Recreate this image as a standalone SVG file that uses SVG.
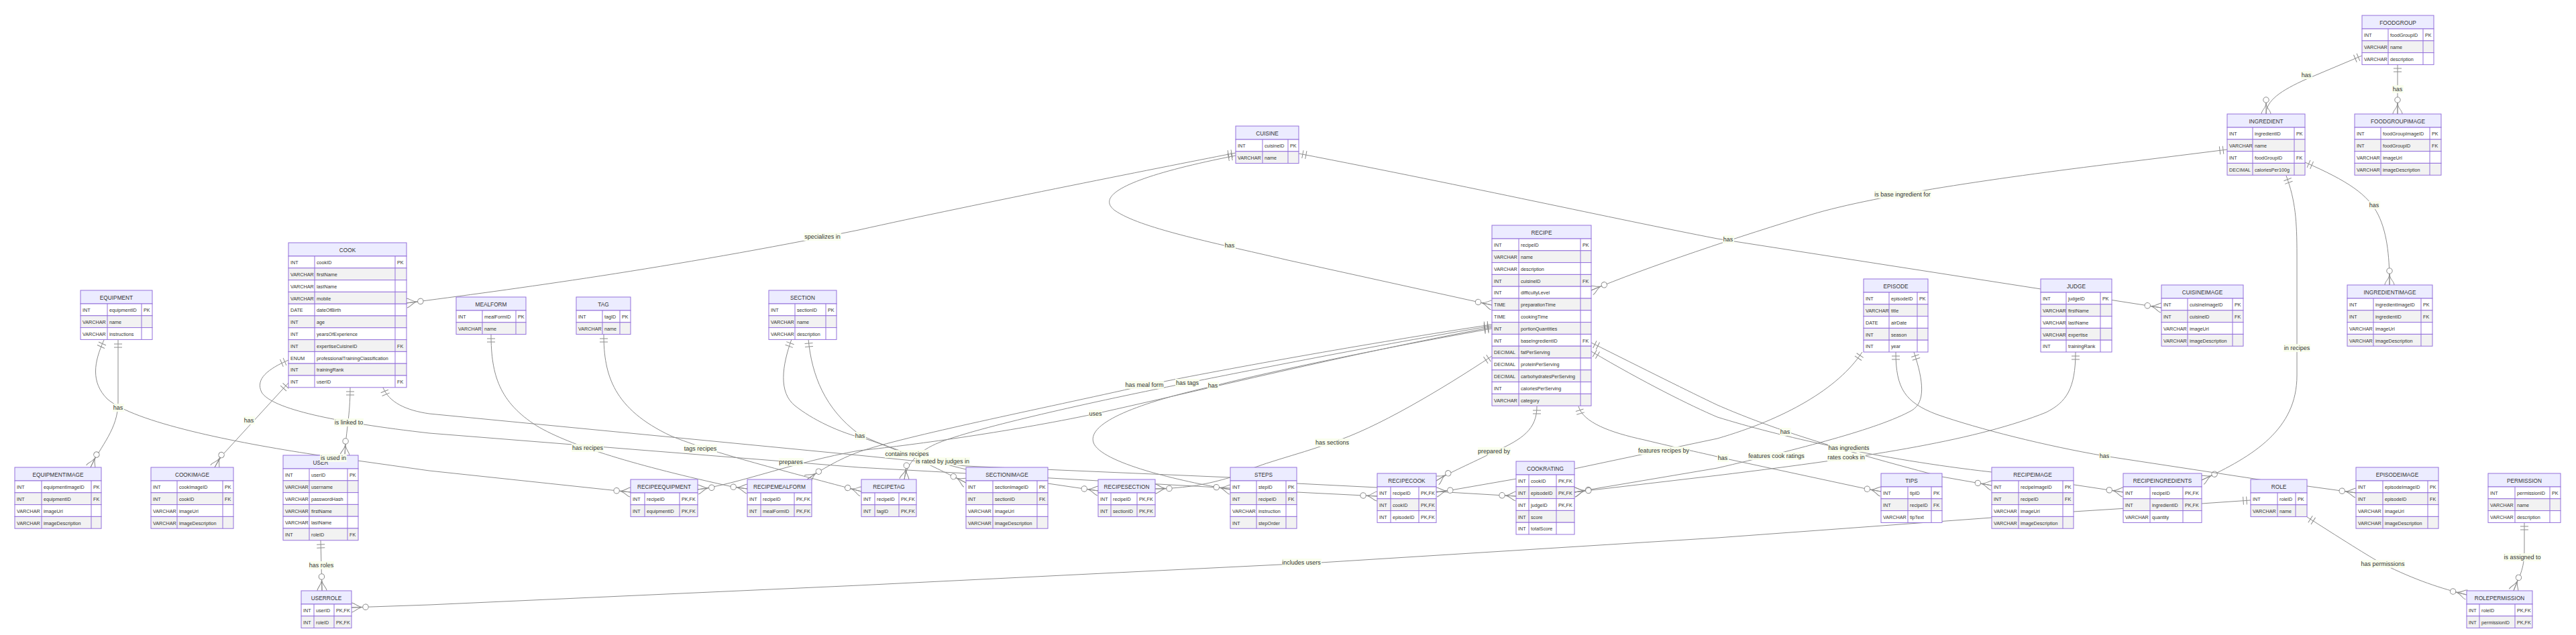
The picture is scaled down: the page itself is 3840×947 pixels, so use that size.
<svg xmlns="http://www.w3.org/2000/svg" width="3840" height="947" viewBox="0 0 3840 947">
<style>
.hd{fill:#ECECFF;stroke:#9370DB;stroke-width:1}
.r1{fill:#ffffff;stroke:#9370DB;stroke-width:1}
.r2{fill:#f2f2f2;stroke:#9370DB;stroke-width:1}
.dv{fill:none;stroke:#9370DB;stroke-width:1}
.ht{font-family:"Liberation Sans",Arial,sans-serif;font-size:8.3px;fill:#333;text-anchor:middle}
.ct{font-family:"Liberation Sans",Arial,sans-serif;font-size:7.2px;fill:#333}
.ln{fill:none;stroke:#8c8c8c;stroke-width:1}
.mk{fill:none;stroke:#8c8c8c;stroke-width:1}
.lb{fill:#f9ffec;opacity:0.9}
.lt{font-family:"Liberation Sans",Arial,sans-serif;font-size:9px;fill:#333;text-anchor:middle}
</style>
<defs>
<marker id="one" markerUnits="userSpaceOnUse" orient="auto-start-reverse" refX="0" refY="0" markerWidth="1" markerHeight="1" style="overflow:visible"><path class="mk" d="M-6,-6V6M-11,-6V6"/></marker>
<marker id="many" markerUnits="userSpaceOnUse" orient="auto" refX="0" refY="0" markerWidth="1" markerHeight="1" style="overflow:visible"><path class="mk" d="M-17,0C-9,0 -5,-7 0,-7M-17,0H0M-17,0C-9,0 -5,7 0,7"/><circle cx="-21" cy="0" r="4.2" fill="#fff" stroke="#8c8c8c" stroke-width="1"/></marker>
</defs>
<rect width="3840" height="947" fill="#ffffff"/>
<g id="connectors">
<path class="ln" marker-start="url(#one)" marker-end="url(#many)" d="M1842,228 C1760,244 1450,305 1280,343 C1000,400 760,432 606,452"/>
<path class="ln" marker-start="url(#one)" marker-end="url(#many)" d="M1842,232 C1690,262 1630,290 1662,314 C1700,340 1800,360 1920,388 L2224,455"/>
<path class="ln" marker-start="url(#one)" marker-end="url(#many)" d="M1936,229 C2200,280 2400,325 2560,356 L3222,459"/>
<path class="ln" marker-start="url(#one)" marker-end="url(#many)" d="M3320,223 L3200,238 C3000,262 2800,290 2700,320 C2600,350 2450,400 2372,433"/>
<path class="ln" marker-start="url(#one)" marker-end="url(#many)" d="M3521,83 L3438,118 C3400,135 3378,150 3378,170"/>
<path class="ln" marker-start="url(#one)" marker-end="url(#many)" d="M3574,96 L3574,170"/>
<path class="ln" marker-start="url(#one)" marker-end="url(#many)" d="M3436,242 C3500,270 3530,290 3545,320 C3560,350 3562,390 3562,425"/>
<path class="ln" marker-start="url(#one)" marker-end="url(#many)" d="M3408,262 C3422,300 3424,330 3424,380 L3424,560 C3424,640 3360,680 3282,716"/>
<path class="ln" marker-start="url(#one)" marker-end="url(#many)" d="M176,507 L176,600 C176,640 150,665 135,697"/>
<path class="ln" marker-start="url(#one)" marker-end="url(#many)" d="M155,507 C140,540 135,570 160,595 C200,630 350,660 469,678 L640,702 L940,734"/>
<path class="ln" marker-start="url(#one)" marker-end="url(#many)" d="M430,571 L333,677 Q326,686 320,697"/>
<path class="ln" marker-start="url(#one)" marker-end="url(#many)" d="M522,578 C522,620 516,640 514,679"/>
<path class="ln" marker-start="url(#one)" marker-end="url(#many)" d="M430,537 C400,550 380,565 390,585 C405,610 500,630 640,646 L1280,697 L1834,728 L1933,734 L2053,740"/>
<path class="ln" marker-start="url(#one)" marker-end="url(#many)" d="M571,578 C580,600 605,612 640,617 L1280,679 L1440,695 L1834,712 L1933,721 L2053,727 L2141,733 L2260,740"/>
<path class="ln" marker-start="url(#one)" marker-end="url(#many)" d="M478,806 L480,881"/>
<path class="ln" marker-start="url(#one)" marker-end="url(#many)" d="M3355,746 L3282,751 L3091,763 L2969,772 L2560,802 L1969,839 L1280,873 L640,902 L524,906"/>
<path class="ln" marker-start="url(#one)" marker-end="url(#many)" d="M732,499 C732,560 745,600 800,635 C850,665 950,695 1092,726 L1114,729"/>
<path class="ln" marker-start="url(#one)" marker-end="url(#many)" d="M900,499 C900,560 915,610 1000,650 C1060,675 1180,705 1284,733"/>
<path class="ln" marker-start="url(#one)" marker-end="url(#many)" d="M1180,506 C1166,545 1160,585 1185,605 C1210,625 1250,645 1292,655 C1340,670 1400,700 1440,720"/>
<path class="ln" marker-start="url(#one)" marker-end="url(#many)" d="M1205,506 C1210,560 1230,610 1280,647 C1320,668 1390,688 1440,700 L1562,721 L1637,732"/>
<path class="ln" marker-start="url(#one)" marker-end="url(#many)" d="M2224,484 C2050,510 1800,555 1706,575 C1550,610 1350,650 1280,674 C1250,685 1225,700 1203,715"/>
<path class="ln" marker-start="url(#one)" marker-end="url(#many)" d="M2224,486 C2050,515 1850,555 1770,571 C1600,605 1450,640 1400,660 C1370,672 1352,690 1348,715"/>
<path class="ln" marker-start="url(#one)" marker-end="url(#many)" d="M2224,488 C2000,530 1800,580 1633,617 C1500,645 1350,665 1280,672 C1180,690 1100,722 1040,730"/>
<path class="ln" marker-start="url(#one)" marker-end="url(#many)" d="M2224,490 C2000,530 1850,565 1808,576 C1700,600 1620,630 1630,660 C1640,690 1760,718 1834,730"/>
<path class="ln" marker-start="url(#one)" marker-end="url(#many)" d="M2224,531 C2150,580 2050,640 1985,660 C1930,680 1880,690 1834,712 C1800,722 1770,728 1722,729"/>
<path class="ln" marker-start="url(#one)" marker-end="url(#many)" d="M2291,606 C2291,640 2270,655 2227,674 C2195,690 2160,705 2141,717"/>
<path class="ln" marker-start="url(#one)" marker-end="url(#many)" d="M2776,525 C2740,580 2660,625 2560,654 L2347,699 L2163,731 L2141,734"/>
<path class="ln" marker-start="url(#one)" marker-end="url(#many)" d="M2853,525 C2868,570 2870,600 2850,612 C2800,640 2680,670 2560,698 L2347,734"/>
<path class="ln" marker-start="url(#one)" marker-end="url(#many)" d="M3094,525 C3094,580 3080,600 3050,615 C2950,655 2800,680 2560,709 L2347,734"/>
<path class="ln" marker-start="url(#one)" marker-end="url(#many)" d="M2353,606 C2360,630 2400,645 2451,656 C2500,668 2540,676 2568,683 L2782,729 L2804,733"/>
<path class="ln" marker-start="url(#one)" marker-end="url(#many)" d="M2372,511 C2450,550 2520,585 2560,604 C2620,630 2700,660 2895,711 L2969,724"/>
<path class="ln" marker-start="url(#one)" marker-end="url(#many)" d="M2372,524 C2450,570 2520,605 2560,622 C2650,650 2800,685 2969,704 L3092,723 L3165,734"/>
<path class="ln" marker-start="url(#one)" marker-end="url(#many)" d="M2826,525 C2826,580 2840,600 2887,618 C2950,640 3050,665 3137,680 L3367,715 L3512,735"/>
<path class="ln" marker-start="url(#one)" marker-end="url(#many)" d="M3439,771 C3500,810 3540,835 3552,841 C3600,865 3640,878 3677,887"/>
<path class="ln" marker-start="url(#one)" marker-end="url(#many)" d="M3763,779 L3763,820 C3763,850 3755,860 3747,881"/>
</g>
<g id="cook" transform="translate(430,362)">
<rect class="hd" width="176" height="20"/><text class="ht" x="88" y="13.5">COOK</text>
<rect class="r1" y="20" width="176" height="17.8"/><rect class="r2" y="37.8" width="176" height="17.8"/><rect class="r1" y="55.6" width="176" height="17.8"/><rect class="r2" y="73.4" width="176" height="17.8"/><rect class="r1" y="91.2" width="176" height="17.8"/><rect class="r2" y="109" width="176" height="17.8"/><rect class="r1" y="126.8" width="176" height="17.8"/><rect class="r2" y="144.6" width="176" height="17.8"/><rect class="r1" y="162.4" width="176" height="17.8"/><rect class="r2" y="180.2" width="176" height="17.8"/><rect class="r1" y="198" width="176" height="17.8"/>
<path class="dv" d="M39,20V215.8M159,20V215.8"/>
<text class="ct" y="32.2"><tspan x="3">INT</tspan><tspan x="42">cookID</tspan><tspan x="162">PK</tspan></text>
<text class="ct" y="50"><tspan x="3">VARCHAR</tspan><tspan x="42">firstName</tspan></text>
<text class="ct" y="67.8"><tspan x="3">VARCHAR</tspan><tspan x="42">lastName</tspan></text>
<text class="ct" y="85.6"><tspan x="3">VARCHAR</tspan><tspan x="42">mobile</tspan></text>
<text class="ct" y="103.4"><tspan x="3">DATE</tspan><tspan x="42">dateOfBirth</tspan></text>
<text class="ct" y="121.2"><tspan x="3">INT</tspan><tspan x="42">age</tspan></text>
<text class="ct" y="139"><tspan x="3">INT</tspan><tspan x="42">yearsOfExperience</tspan></text>
<text class="ct" y="156.8"><tspan x="3">INT</tspan><tspan x="42">expertiseCuisineID</tspan><tspan x="162">FK</tspan></text>
<text class="ct" y="174.6"><tspan x="3">ENUM</tspan><tspan x="42">professionalTrainingClassification</tspan></text>
<text class="ct" y="192.4"><tspan x="3">INT</tspan><tspan x="42">trainingRank</tspan></text>
<text class="ct" y="210.2"><tspan x="3">INT</tspan><tspan x="42">userID</tspan><tspan x="162">FK</tspan></text>
</g>
<g id="equipment" transform="translate(120,433)">
<rect class="hd" width="107" height="20"/><text class="ht" x="53.5" y="13.5">EQUIPMENT</text>
<rect class="r1" y="20" width="107" height="17.8"/><rect class="r2" y="37.8" width="107" height="17.8"/><rect class="r1" y="55.6" width="107" height="17.8"/>
<path class="dv" d="M40,20V73.4M91,20V73.4"/>
<text class="ct" y="32.2"><tspan x="3">INT</tspan><tspan x="43">equipmentID</tspan><tspan x="94">PK</tspan></text>
<text class="ct" y="50"><tspan x="3">VARCHAR</tspan><tspan x="43">name</tspan></text>
<text class="ct" y="67.8"><tspan x="3">VARCHAR</tspan><tspan x="43">instructions</tspan></text>
</g>
<g id="mealform" transform="translate(680,443)">
<rect class="hd" width="104" height="20"/><text class="ht" x="52" y="13.5">MEALFORM</text>
<rect class="r1" y="20" width="104" height="17.8"/><rect class="r2" y="37.8" width="104" height="17.8"/>
<path class="dv" d="M39,20V55.6M89,20V55.6"/>
<text class="ct" y="32.2"><tspan x="3">INT</tspan><tspan x="42">mealFormID</tspan><tspan x="92">PK</tspan></text>
<text class="ct" y="50"><tspan x="3">VARCHAR</tspan><tspan x="42">name</tspan></text>
</g>
<g id="tag" transform="translate(859,443)">
<rect class="hd" width="81" height="20"/><text class="ht" x="40.5" y="13.5">TAG</text>
<rect class="r1" y="20" width="81" height="17.8"/><rect class="r2" y="37.8" width="81" height="17.8"/>
<path class="dv" d="M39,20V55.6M65,20V55.6"/>
<text class="ct" y="32.2"><tspan x="3">INT</tspan><tspan x="42">tagID</tspan><tspan x="68">PK</tspan></text>
<text class="ct" y="50"><tspan x="3">VARCHAR</tspan><tspan x="42">name</tspan></text>
</g>
<g id="section" transform="translate(1146,433)">
<rect class="hd" width="101" height="20"/><text class="ht" x="50.5" y="13.5">SECTION</text>
<rect class="r1" y="20" width="101" height="17.8"/><rect class="r2" y="37.8" width="101" height="17.8"/><rect class="r1" y="55.6" width="101" height="17.8"/>
<path class="dv" d="M39,20V73.4M85,20V73.4"/>
<text class="ct" y="32.2"><tspan x="3">INT</tspan><tspan x="42">sectionID</tspan><tspan x="88">PK</tspan></text>
<text class="ct" y="50"><tspan x="3">VARCHAR</tspan><tspan x="42">name</tspan></text>
<text class="ct" y="67.8"><tspan x="3">VARCHAR</tspan><tspan x="42">description</tspan></text>
</g>
<g id="cuisine" transform="translate(1842,188)">
<rect class="hd" width="94" height="20"/><text class="ht" x="47" y="13.5">CUISINE</text>
<rect class="r1" y="20" width="94" height="17.8"/><rect class="r2" y="37.8" width="94" height="17.8"/>
<path class="dv" d="M40,20V55.6M78,20V55.6"/>
<text class="ct" y="32.2"><tspan x="3">INT</tspan><tspan x="43">cuisineID</tspan><tspan x="81">PK</tspan></text>
<text class="ct" y="50"><tspan x="3">VARCHAR</tspan><tspan x="43">name</tspan></text>
</g>
<g id="recipe" transform="translate(2224,336)">
<rect class="hd" width="148" height="20"/><text class="ht" x="74" y="13.5">RECIPE</text>
<rect class="r1" y="20" width="148" height="17.8"/><rect class="r2" y="37.8" width="148" height="17.8"/><rect class="r1" y="55.6" width="148" height="17.8"/><rect class="r2" y="73.4" width="148" height="17.8"/><rect class="r1" y="91.2" width="148" height="17.8"/><rect class="r2" y="109" width="148" height="17.8"/><rect class="r1" y="126.8" width="148" height="17.8"/><rect class="r2" y="144.6" width="148" height="17.8"/><rect class="r1" y="162.4" width="148" height="17.8"/><rect class="r2" y="180.2" width="148" height="17.8"/><rect class="r1" y="198" width="148" height="17.8"/><rect class="r2" y="215.8" width="148" height="17.8"/><rect class="r1" y="233.6" width="148" height="17.8"/><rect class="r2" y="251.4" width="148" height="17.8"/>
<path class="dv" d="M40,20V269.2M132,20V269.2"/>
<text class="ct" y="32.2"><tspan x="3">INT</tspan><tspan x="43">recipeID</tspan><tspan x="135">PK</tspan></text>
<text class="ct" y="50"><tspan x="3">VARCHAR</tspan><tspan x="43">name</tspan></text>
<text class="ct" y="67.8"><tspan x="3">VARCHAR</tspan><tspan x="43">description</tspan></text>
<text class="ct" y="85.6"><tspan x="3">INT</tspan><tspan x="43">cuisineID</tspan><tspan x="135">FK</tspan></text>
<text class="ct" y="103.4"><tspan x="3">INT</tspan><tspan x="43">difficultyLevel</tspan></text>
<text class="ct" y="121.2"><tspan x="3">TIME</tspan><tspan x="43">preparationTime</tspan></text>
<text class="ct" y="139"><tspan x="3">TIME</tspan><tspan x="43">cookingTime</tspan></text>
<text class="ct" y="156.8"><tspan x="3">INT</tspan><tspan x="43">portionQuantities</tspan></text>
<text class="ct" y="174.6"><tspan x="3">INT</tspan><tspan x="43">baseIngredientID</tspan><tspan x="135">FK</tspan></text>
<text class="ct" y="192.4"><tspan x="3">DECIMAL</tspan><tspan x="43">fatPerServing</tspan></text>
<text class="ct" y="210.2"><tspan x="3">DECIMAL</tspan><tspan x="43">proteinPerServing</tspan></text>
<text class="ct" y="228"><tspan x="3">DECIMAL</tspan><tspan x="43">carbohydratesPerServing</tspan></text>
<text class="ct" y="245.8"><tspan x="3">INT</tspan><tspan x="43">caloriesPerServing</tspan></text>
<text class="ct" y="263.6"><tspan x="3">VARCHAR</tspan><tspan x="43">category</tspan></text>
</g>
<g id="episode" transform="translate(2778,416)">
<rect class="hd" width="96" height="20"/><text class="ht" x="48" y="13.5">EPISODE</text>
<rect class="r1" y="20" width="96" height="17.8"/><rect class="r2" y="37.8" width="96" height="17.8"/><rect class="r1" y="55.6" width="96" height="17.8"/><rect class="r2" y="73.4" width="96" height="17.8"/><rect class="r1" y="91.2" width="96" height="17.8"/>
<path class="dv" d="M38,20V109M80,20V109"/>
<text class="ct" y="32.2"><tspan x="3">INT</tspan><tspan x="41">episodeID</tspan><tspan x="83">PK</tspan></text>
<text class="ct" y="50"><tspan x="3">VARCHAR</tspan><tspan x="41">title</tspan></text>
<text class="ct" y="67.8"><tspan x="3">DATE</tspan><tspan x="41">airDate</tspan></text>
<text class="ct" y="85.6"><tspan x="3">INT</tspan><tspan x="41">season</tspan></text>
<text class="ct" y="103.4"><tspan x="3">INT</tspan><tspan x="41">year</tspan></text>
</g>
<g id="judge" transform="translate(3042,416)">
<rect class="hd" width="106" height="20"/><text class="ht" x="53" y="13.5">JUDGE</text>
<rect class="r1" y="20" width="106" height="17.8"/><rect class="r2" y="37.8" width="106" height="17.8"/><rect class="r1" y="55.6" width="106" height="17.8"/><rect class="r2" y="73.4" width="106" height="17.8"/><rect class="r1" y="91.2" width="106" height="17.8"/>
<path class="dv" d="M38,20V109M89,20V109"/>
<text class="ct" y="32.2"><tspan x="3">INT</tspan><tspan x="41">judgeID</tspan><tspan x="92">PK</tspan></text>
<text class="ct" y="50"><tspan x="3">VARCHAR</tspan><tspan x="41">firstName</tspan></text>
<text class="ct" y="67.8"><tspan x="3">VARCHAR</tspan><tspan x="41">lastName</tspan></text>
<text class="ct" y="85.6"><tspan x="3">VARCHAR</tspan><tspan x="41">expertise</tspan></text>
<text class="ct" y="103.4"><tspan x="3">INT</tspan><tspan x="41">trainingRank</tspan></text>
</g>
<g id="foodgroup" transform="translate(3521,23)">
<rect class="hd" width="107" height="20"/><text class="ht" x="53.5" y="13.5">FOODGROUP</text>
<rect class="r1" y="20" width="107" height="17.8"/><rect class="r2" y="37.8" width="107" height="17.8"/><rect class="r1" y="55.6" width="107" height="17.8"/>
<path class="dv" d="M39,20V73.4M91,20V73.4"/>
<text class="ct" y="32.2"><tspan x="3">INT</tspan><tspan x="42">foodGroupID</tspan><tspan x="94">PK</tspan></text>
<text class="ct" y="50"><tspan x="3">VARCHAR</tspan><tspan x="42">name</tspan></text>
<text class="ct" y="67.8"><tspan x="3">VARCHAR</tspan><tspan x="42">description</tspan></text>
</g>
<g id="ingredient" transform="translate(3320,170)">
<rect class="hd" width="116" height="20"/><text class="ht" x="58" y="13.5">INGREDIENT</text>
<rect class="r1" y="20" width="116" height="17.8"/><rect class="r2" y="37.8" width="116" height="17.8"/><rect class="r1" y="55.6" width="116" height="17.8"/><rect class="r2" y="73.4" width="116" height="17.8"/>
<path class="dv" d="M38,20V91.2M100,20V91.2"/>
<text class="ct" y="32.2"><tspan x="3">INT</tspan><tspan x="41">ingredientID</tspan><tspan x="103">PK</tspan></text>
<text class="ct" y="50"><tspan x="3">VARCHAR</tspan><tspan x="41">name</tspan></text>
<text class="ct" y="67.8"><tspan x="3">INT</tspan><tspan x="41">foodGroupID</tspan><tspan x="103">FK</tspan></text>
<text class="ct" y="85.6"><tspan x="3">DECIMAL</tspan><tspan x="41">caloriesPer100g</tspan></text>
</g>
<g id="foodgroupimage" transform="translate(3510,170)">
<rect class="hd" width="129" height="20"/><text class="ht" x="64.5" y="13.5">FOODGROUPIMAGE</text>
<rect class="r1" y="20" width="129" height="17.8"/><rect class="r2" y="37.8" width="129" height="17.8"/><rect class="r1" y="55.6" width="129" height="17.8"/><rect class="r2" y="73.4" width="129" height="17.8"/>
<path class="dv" d="M39,20V91.2M112,20V91.2"/>
<text class="ct" y="32.2"><tspan x="3">INT</tspan><tspan x="42">foodGroupImageID</tspan><tspan x="115">PK</tspan></text>
<text class="ct" y="50"><tspan x="3">INT</tspan><tspan x="42">foodGroupID</tspan><tspan x="115">FK</tspan></text>
<text class="ct" y="67.8"><tspan x="3">VARCHAR</tspan><tspan x="42">imageUrl</tspan></text>
<text class="ct" y="85.6"><tspan x="3">VARCHAR</tspan><tspan x="42">imageDescription</tspan></text>
</g>
<g id="cuisineimage" transform="translate(3222,425)">
<rect class="hd" width="122" height="20"/><text class="ht" x="61" y="13.5">CUISINEIMAGE</text>
<rect class="r1" y="20" width="122" height="17.8"/><rect class="r2" y="37.8" width="122" height="17.8"/><rect class="r1" y="55.6" width="122" height="17.8"/><rect class="r2" y="73.4" width="122" height="17.8"/>
<path class="dv" d="M39,20V91.2M106,20V91.2"/>
<text class="ct" y="32.2"><tspan x="3">INT</tspan><tspan x="42">cuisineImageID</tspan><tspan x="109">PK</tspan></text>
<text class="ct" y="50"><tspan x="3">INT</tspan><tspan x="42">cuisineID</tspan><tspan x="109">FK</tspan></text>
<text class="ct" y="67.8"><tspan x="3">VARCHAR</tspan><tspan x="42">imageUrl</tspan></text>
<text class="ct" y="85.6"><tspan x="3">VARCHAR</tspan><tspan x="42">imageDescription</tspan></text>
</g>
<g id="ingredientimage" transform="translate(3499,425)">
<rect class="hd" width="127" height="20"/><text class="ht" x="63.5" y="13.5">INGREDIENTIMAGE</text>
<rect class="r1" y="20" width="127" height="17.8"/><rect class="r2" y="37.8" width="127" height="17.8"/><rect class="r1" y="55.6" width="127" height="17.8"/><rect class="r2" y="73.4" width="127" height="17.8"/>
<path class="dv" d="M39,20V91.2M110,20V91.2"/>
<text class="ct" y="32.2"><tspan x="3">INT</tspan><tspan x="42">ingredientImageID</tspan><tspan x="113">PK</tspan></text>
<text class="ct" y="50"><tspan x="3">INT</tspan><tspan x="42">ingredientID</tspan><tspan x="113">FK</tspan></text>
<text class="ct" y="67.8"><tspan x="3">VARCHAR</tspan><tspan x="42">imageUrl</tspan></text>
<text class="ct" y="85.6"><tspan x="3">VARCHAR</tspan><tspan x="42">imageDescription</tspan></text>
</g>
<g id="equipmentimage" transform="translate(22,697)">
<rect class="hd" width="129" height="20"/><text class="ht" x="64.5" y="13.5">EQUIPMENTIMAGE</text>
<rect class="r1" y="20" width="129" height="17.8"/><rect class="r2" y="37.8" width="129" height="17.8"/><rect class="r1" y="55.6" width="129" height="17.8"/><rect class="r2" y="73.4" width="129" height="17.8"/>
<path class="dv" d="M40,20V91.2M114,20V91.2"/>
<text class="ct" y="32.2"><tspan x="3">INT</tspan><tspan x="43">equipmentImageID</tspan><tspan x="117">PK</tspan></text>
<text class="ct" y="50"><tspan x="3">INT</tspan><tspan x="43">equipmentID</tspan><tspan x="117">FK</tspan></text>
<text class="ct" y="67.8"><tspan x="3">VARCHAR</tspan><tspan x="43">imageUrl</tspan></text>
<text class="ct" y="85.6"><tspan x="3">VARCHAR</tspan><tspan x="43">imageDescription</tspan></text>
</g>
<g id="cookimage" transform="translate(225,697)">
<rect class="hd" width="123" height="20"/><text class="ht" x="61.5" y="13.5">COOKIMAGE</text>
<rect class="r1" y="20" width="123" height="17.8"/><rect class="r2" y="37.8" width="123" height="17.8"/><rect class="r1" y="55.6" width="123" height="17.8"/><rect class="r2" y="73.4" width="123" height="17.8"/>
<path class="dv" d="M39,20V91.2M107,20V91.2"/>
<text class="ct" y="32.2"><tspan x="3">INT</tspan><tspan x="42">cookImageID</tspan><tspan x="110">PK</tspan></text>
<text class="ct" y="50"><tspan x="3">INT</tspan><tspan x="42">cookID</tspan><tspan x="110">FK</tspan></text>
<text class="ct" y="67.8"><tspan x="3">VARCHAR</tspan><tspan x="42">imageUrl</tspan></text>
<text class="ct" y="85.6"><tspan x="3">VARCHAR</tspan><tspan x="42">imageDescription</tspan></text>
</g>
<g id="user" transform="translate(422,679)">
<rect class="hd" width="112" height="20"/><text class="ht" x="56" y="13.5">USER</text>
<rect class="r1" y="20" width="112" height="17.8"/><rect class="r2" y="37.8" width="112" height="17.8"/><rect class="r1" y="55.6" width="112" height="17.8"/><rect class="r2" y="73.4" width="112" height="17.8"/><rect class="r1" y="91.2" width="112" height="17.8"/><rect class="r2" y="109" width="112" height="17.8"/>
<path class="dv" d="M39,20V126.8M96,20V126.8"/>
<text class="ct" y="32.2"><tspan x="3">INT</tspan><tspan x="42">userID</tspan><tspan x="99">PK</tspan></text>
<text class="ct" y="50"><tspan x="3">VARCHAR</tspan><tspan x="42">username</tspan></text>
<text class="ct" y="67.8"><tspan x="3">VARCHAR</tspan><tspan x="42">passwordHash</tspan></text>
<text class="ct" y="85.6"><tspan x="3">VARCHAR</tspan><tspan x="42">firstName</tspan></text>
<text class="ct" y="103.4"><tspan x="3">VARCHAR</tspan><tspan x="42">lastName</tspan></text>
<text class="ct" y="121.2"><tspan x="3">INT</tspan><tspan x="42">roleID</tspan><tspan x="99">FK</tspan></text>
</g>
<g id="userrole" transform="translate(449,881)">
<rect class="hd" width="75" height="20"/><text class="ht" x="37.5" y="13.5">USERROLE</text>
<rect class="r1" y="20" width="75" height="17.8"/><rect class="r2" y="37.8" width="75" height="17.8"/>
<path class="dv" d="M19,20V55.6M49,20V55.6"/>
<text class="ct" y="32.2"><tspan x="3">INT</tspan><tspan x="22">userID</tspan><tspan x="52">PK,FK</tspan></text>
<text class="ct" y="50"><tspan x="3">INT</tspan><tspan x="22">roleID</tspan><tspan x="52">PK,FK</tspan></text>
</g>
<g id="recipeequipment" transform="translate(940,715)">
<rect class="hd" width="100" height="20"/><text class="ht" x="50" y="13.5">RECIPEEQUIPMENT</text>
<rect class="r1" y="20" width="100" height="17.8"/><rect class="r2" y="37.8" width="100" height="17.8"/>
<path class="dv" d="M21,20V55.6M73,20V55.6"/>
<text class="ct" y="32.2"><tspan x="3">INT</tspan><tspan x="24">recipeID</tspan><tspan x="76">PK,FK</tspan></text>
<text class="ct" y="50"><tspan x="3">INT</tspan><tspan x="24">equipmentID</tspan><tspan x="76">PK,FK</tspan></text>
</g>
<g id="recipemealform" transform="translate(1114,715)">
<rect class="hd" width="96" height="20"/><text class="ht" x="48" y="13.5">RECIPEMEALFORM</text>
<rect class="r1" y="20" width="96" height="17.8"/><rect class="r2" y="37.8" width="96" height="17.8"/>
<path class="dv" d="M20,20V55.6M70,20V55.6"/>
<text class="ct" y="32.2"><tspan x="3">INT</tspan><tspan x="23">recipeID</tspan><tspan x="73">PK,FK</tspan></text>
<text class="ct" y="50"><tspan x="3">INT</tspan><tspan x="23">mealFormID</tspan><tspan x="73">PK,FK</tspan></text>
</g>
<g id="recipetag" transform="translate(1284,715)">
<rect class="hd" width="82" height="20"/><text class="ht" x="41" y="13.5">RECIPETAG</text>
<rect class="r1" y="20" width="82" height="17.8"/><rect class="r2" y="37.8" width="82" height="17.8"/>
<path class="dv" d="M20,20V55.6M56,20V55.6"/>
<text class="ct" y="32.2"><tspan x="3">INT</tspan><tspan x="23">recipeID</tspan><tspan x="59">PK,FK</tspan></text>
<text class="ct" y="50"><tspan x="3">INT</tspan><tspan x="23">tagID</tspan><tspan x="59">PK,FK</tspan></text>
</g>
<g id="sectionimage" transform="translate(1440,697)">
<rect class="hd" width="122" height="20"/><text class="ht" x="61" y="13.5">SECTIONIMAGE</text>
<rect class="r1" y="20" width="122" height="17.8"/><rect class="r2" y="37.8" width="122" height="17.8"/><rect class="r1" y="55.6" width="122" height="17.8"/><rect class="r2" y="73.4" width="122" height="17.8"/>
<path class="dv" d="M40,20V91.2M106,20V91.2"/>
<text class="ct" y="32.2"><tspan x="3">INT</tspan><tspan x="43">sectionImageID</tspan><tspan x="109">PK</tspan></text>
<text class="ct" y="50"><tspan x="3">INT</tspan><tspan x="43">sectionID</tspan><tspan x="109">FK</tspan></text>
<text class="ct" y="67.8"><tspan x="3">VARCHAR</tspan><tspan x="43">imageUrl</tspan></text>
<text class="ct" y="85.6"><tspan x="3">VARCHAR</tspan><tspan x="43">imageDescription</tspan></text>
</g>
<g id="recipesection" transform="translate(1637,715)">
<rect class="hd" width="85" height="20"/><text class="ht" x="42.5" y="13.5">RECIPESECTION</text>
<rect class="r1" y="20" width="85" height="17.8"/><rect class="r2" y="37.8" width="85" height="17.8"/>
<path class="dv" d="M19,20V55.6M58,20V55.6"/>
<text class="ct" y="32.2"><tspan x="3">INT</tspan><tspan x="22">recipeID</tspan><tspan x="61">PK,FK</tspan></text>
<text class="ct" y="50"><tspan x="3">INT</tspan><tspan x="22">sectionID</tspan><tspan x="61">PK,FK</tspan></text>
</g>
<g id="steps" transform="translate(1834,697)">
<rect class="hd" width="99" height="20"/><text class="ht" x="49.5" y="13.5">STEPS</text>
<rect class="r1" y="20" width="99" height="17.8"/><rect class="r2" y="37.8" width="99" height="17.8"/><rect class="r1" y="55.6" width="99" height="17.8"/><rect class="r2" y="73.4" width="99" height="17.8"/>
<path class="dv" d="M39,20V91.2M83,20V91.2"/>
<text class="ct" y="32.2"><tspan x="3">INT</tspan><tspan x="42">stepID</tspan><tspan x="86">PK</tspan></text>
<text class="ct" y="50"><tspan x="3">INT</tspan><tspan x="42">recipeID</tspan><tspan x="86">FK</tspan></text>
<text class="ct" y="67.8"><tspan x="3">VARCHAR</tspan><tspan x="42">instruction</tspan></text>
<text class="ct" y="85.6"><tspan x="3">INT</tspan><tspan x="42">stepOrder</tspan></text>
</g>
<g id="recipecook" transform="translate(2053,706)">
<rect class="hd" width="88" height="20"/><text class="ht" x="44" y="13.5">RECIPECOOK</text>
<rect class="r1" y="20" width="88" height="17.8"/><rect class="r2" y="37.8" width="88" height="17.8"/><rect class="r1" y="55.6" width="88" height="17.8"/>
<path class="dv" d="M20,20V73.4M62,20V73.4"/>
<text class="ct" y="32.2"><tspan x="3">INT</tspan><tspan x="23">recipeID</tspan><tspan x="65">PK,FK</tspan></text>
<text class="ct" y="50"><tspan x="3">INT</tspan><tspan x="23">cookID</tspan><tspan x="65">PK,FK</tspan></text>
<text class="ct" y="67.8"><tspan x="3">INT</tspan><tspan x="23">episodeID</tspan><tspan x="65">PK,FK</tspan></text>
</g>
<g id="cookrating" transform="translate(2260,688)">
<rect class="hd" width="87" height="20"/><text class="ht" x="43.5" y="13.5">COOKRATING</text>
<rect class="r1" y="20" width="87" height="17.8"/><rect class="r2" y="37.8" width="87" height="17.8"/><rect class="r1" y="55.6" width="87" height="17.8"/><rect class="r2" y="73.4" width="87" height="17.8"/><rect class="r1" y="91.2" width="87" height="17.8"/>
<path class="dv" d="M19,20V109M60,20V109"/>
<text class="ct" y="32.2"><tspan x="3">INT</tspan><tspan x="22">cookID</tspan><tspan x="63">PK,FK</tspan></text>
<text class="ct" y="50"><tspan x="3">INT</tspan><tspan x="22">episodeID</tspan><tspan x="63">PK,FK</tspan></text>
<text class="ct" y="67.8"><tspan x="3">INT</tspan><tspan x="22">judgeID</tspan><tspan x="63">PK,FK</tspan></text>
<text class="ct" y="85.6"><tspan x="3">INT</tspan><tspan x="22">score</tspan></text>
<text class="ct" y="103.4"><tspan x="3">INT</tspan><tspan x="22">totalScore</tspan></text>
</g>
<g id="tips" transform="translate(2804,706)">
<rect class="hd" width="91" height="20"/><text class="ht" x="45.5" y="13.5">TIPS</text>
<rect class="r1" y="20" width="91" height="17.8"/><rect class="r2" y="37.8" width="91" height="17.8"/><rect class="r1" y="55.6" width="91" height="17.8"/>
<path class="dv" d="M40,20V73.4M75,20V73.4"/>
<text class="ct" y="32.2"><tspan x="3">INT</tspan><tspan x="43">tipID</tspan><tspan x="78">PK</tspan></text>
<text class="ct" y="50"><tspan x="3">INT</tspan><tspan x="43">recipeID</tspan><tspan x="78">FK</tspan></text>
<text class="ct" y="67.8"><tspan x="3">VARCHAR</tspan><tspan x="43">tipText</tspan></text>
</g>
<g id="recipeimage" transform="translate(2969,697)">
<rect class="hd" width="122" height="20"/><text class="ht" x="61" y="13.5">RECIPEIMAGE</text>
<rect class="r1" y="20" width="122" height="17.8"/><rect class="r2" y="37.8" width="122" height="17.8"/><rect class="r1" y="55.6" width="122" height="17.8"/><rect class="r2" y="73.4" width="122" height="17.8"/>
<path class="dv" d="M40,20V91.2M106,20V91.2"/>
<text class="ct" y="32.2"><tspan x="3">INT</tspan><tspan x="43">recipeImageID</tspan><tspan x="109">PK</tspan></text>
<text class="ct" y="50"><tspan x="3">INT</tspan><tspan x="43">recipeID</tspan><tspan x="109">FK</tspan></text>
<text class="ct" y="67.8"><tspan x="3">VARCHAR</tspan><tspan x="43">imageUrl</tspan></text>
<text class="ct" y="85.6"><tspan x="3">VARCHAR</tspan><tspan x="43">imageDescription</tspan></text>
</g>
<g id="recipeingredients" transform="translate(3165,706)">
<rect class="hd" width="117" height="20"/><text class="ht" x="58.5" y="13.5">RECIPEINGREDIENTS</text>
<rect class="r1" y="20" width="117" height="17.8"/><rect class="r2" y="37.8" width="117" height="17.8"/><rect class="r1" y="55.6" width="117" height="17.8"/>
<path class="dv" d="M40,20V73.4M89,20V73.4"/>
<text class="ct" y="32.2"><tspan x="3">INT</tspan><tspan x="43">recipeID</tspan><tspan x="92">PK,FK</tspan></text>
<text class="ct" y="50"><tspan x="3">INT</tspan><tspan x="43">ingredientID</tspan><tspan x="92">PK,FK</tspan></text>
<text class="ct" y="67.8"><tspan x="3">VARCHAR</tspan><tspan x="43">quantity</tspan></text>
</g>
<g id="role" transform="translate(3355,715)">
<rect class="hd" width="84" height="20"/><text class="ht" x="42" y="13.5">ROLE</text>
<rect class="r1" y="20" width="84" height="17.8"/><rect class="r2" y="37.8" width="84" height="17.8"/>
<path class="dv" d="M40,20V55.6M67,20V55.6"/>
<text class="ct" y="32.2"><tspan x="3">INT</tspan><tspan x="43">roleID</tspan><tspan x="70">PK</tspan></text>
<text class="ct" y="50"><tspan x="3">VARCHAR</tspan><tspan x="43">name</tspan></text>
</g>
<g id="episodeimage" transform="translate(3512,697)">
<rect class="hd" width="123" height="20"/><text class="ht" x="61.5" y="13.5">EPISODEIMAGE</text>
<rect class="r1" y="20" width="123" height="17.8"/><rect class="r2" y="37.8" width="123" height="17.8"/><rect class="r1" y="55.6" width="123" height="17.8"/><rect class="r2" y="73.4" width="123" height="17.8"/>
<path class="dv" d="M40,20V91.2M107,20V91.2"/>
<text class="ct" y="32.2"><tspan x="3">INT</tspan><tspan x="43">episodeImageID</tspan><tspan x="110">PK</tspan></text>
<text class="ct" y="50"><tspan x="3">INT</tspan><tspan x="43">episodeID</tspan><tspan x="110">FK</tspan></text>
<text class="ct" y="67.8"><tspan x="3">VARCHAR</tspan><tspan x="43">imageUrl</tspan></text>
<text class="ct" y="85.6"><tspan x="3">VARCHAR</tspan><tspan x="43">imageDescription</tspan></text>
</g>
<g id="permission" transform="translate(3709,706)">
<rect class="hd" width="108" height="20"/><text class="ht" x="54" y="13.5">PERMISSION</text>
<rect class="r1" y="20" width="108" height="17.8"/><rect class="r2" y="37.8" width="108" height="17.8"/><rect class="r1" y="55.6" width="108" height="17.8"/>
<path class="dv" d="M40,20V73.4M92,20V73.4"/>
<text class="ct" y="32.2"><tspan x="3">INT</tspan><tspan x="43">permissionID</tspan><tspan x="95">PK</tspan></text>
<text class="ct" y="50"><tspan x="3">VARCHAR</tspan><tspan x="43">name</tspan></text>
<text class="ct" y="67.8"><tspan x="3">VARCHAR</tspan><tspan x="43">description</tspan></text>
</g>
<g id="rolepermission" transform="translate(3677,881)">
<rect class="hd" width="98" height="20"/><text class="ht" x="49" y="13.5">ROLEPERMISSION</text>
<rect class="r1" y="20" width="98" height="17.8"/><rect class="r2" y="37.8" width="98" height="17.8"/>
<path class="dv" d="M19,20V55.6M72,20V55.6"/>
<text class="ct" y="32.2"><tspan x="3">INT</tspan><tspan x="22">roleID</tspan><tspan x="75">PK,FK</tspan></text>
<text class="ct" y="50"><tspan x="3">INT</tspan><tspan x="22">permissionID</tspan><tspan x="75">PK,FK</tspan></text>
</g>
<g id="labels">
<rect class="lb" x="1198" y="347" width="56" height="12"/><text class="lt" x="1226" y="356">specializes in</text>
<rect class="lb" x="1825" y="360" width="17" height="12"/><text class="lt" x="1833" y="369">has</text>
<rect class="lb" x="2568" y="351" width="17" height="12"/><text class="lt" x="2576" y="360">has</text>
<rect class="lb" x="2794" y="284" width="85" height="12"/><text class="lt" x="2836" y="293">is base ingredient for</text>
<rect class="lb" x="3430" y="106" width="17" height="12"/><text class="lt" x="3438" y="115">has</text>
<rect class="lb" x="3566" y="127" width="17" height="12"/><text class="lt" x="3574" y="136">has</text>
<rect class="lb" x="3531" y="300" width="17" height="12"/><text class="lt" x="3539" y="309">has</text>
<rect class="lb" x="3404" y="513" width="40" height="12"/><text class="lt" x="3424" y="522">in recipes</text>
<rect class="lb" x="168" y="602" width="17" height="12"/><text class="lt" x="176" y="611">has</text>
<rect class="lb" x="477" y="677" width="40" height="12"/><text class="lt" x="497" y="686">is used in</text>
<rect class="lb" x="363" y="621" width="17" height="12"/><text class="lt" x="371" y="630">has</text>
<rect class="lb" x="498" y="624" width="44" height="12"/><text class="lt" x="520" y="633">is linked to</text>
<rect class="lb" x="460" y="837" width="38" height="12"/><text class="lt" x="479" y="846">has roles</text>
<rect class="lb" x="852" y="662" width="48" height="12"/><text class="lt" x="876" y="671">has recipes</text>
<rect class="lb" x="1019" y="663" width="50" height="12"/><text class="lt" x="1044" y="672">tags recipes</text>
<rect class="lb" x="1161" y="683" width="37" height="12"/><text class="lt" x="1179" y="692">prepares</text>
<rect class="lb" x="1677" y="568" width="58" height="12"/><text class="lt" x="1706" y="577">has meal form</text>
<rect class="lb" x="1752" y="565" width="36" height="12"/><text class="lt" x="1770" y="574">has tags</text>
<rect class="lb" x="1800" y="569" width="17" height="12"/><text class="lt" x="1808" y="578">has</text>
<rect class="lb" x="1623" y="611" width="20" height="12"/><text class="lt" x="1633" y="620">uses</text>
<rect class="lb" x="1274" y="644" width="17" height="12"/><text class="lt" x="1282" y="653">has</text>
<rect class="lb" x="1319" y="671" width="66" height="12"/><text class="lt" x="1352" y="680">contains recipes</text>
<rect class="lb" x="1364" y="682" width="82" height="12"/><text class="lt" x="1405" y="691">is rated by judges in</text>
<rect class="lb" x="1960" y="654" width="52" height="12"/><text class="lt" x="1986" y="663">has sections</text>
<rect class="lb" x="2203" y="667" width="49" height="12"/><text class="lt" x="2227" y="676">prepared by</text>
<rect class="lb" x="2442" y="666" width="77" height="12"/><text class="lt" x="2480" y="675">features recipes by</text>
<rect class="lb" x="2606" y="674" width="84" height="12"/><text class="lt" x="2648" y="683">features cook ratings</text>
<rect class="lb" x="2724" y="676" width="57" height="12"/><text class="lt" x="2752" y="685">rates cooks in</text>
<rect class="lb" x="2560" y="677" width="17" height="12"/><text class="lt" x="2568" y="686">has</text>
<rect class="lb" x="2653" y="638" width="17" height="12"/><text class="lt" x="2661" y="647">has</text>
<rect class="lb" x="2725" y="662" width="62" height="12"/><text class="lt" x="2756" y="671">has ingredients</text>
<rect class="lb" x="3129" y="674" width="17" height="12"/><text class="lt" x="3137" y="683">has</text>
<rect class="lb" x="1911" y="833" width="59" height="12"/><text class="lt" x="1940" y="842">includes users</text>
<rect class="lb" x="3519" y="835" width="66" height="12"/><text class="lt" x="3552" y="844">has permissions</text>
<rect class="lb" x="3732" y="825" width="56" height="12"/><text class="lt" x="3760" y="834">is assigned to</text>
</g>
</svg>
